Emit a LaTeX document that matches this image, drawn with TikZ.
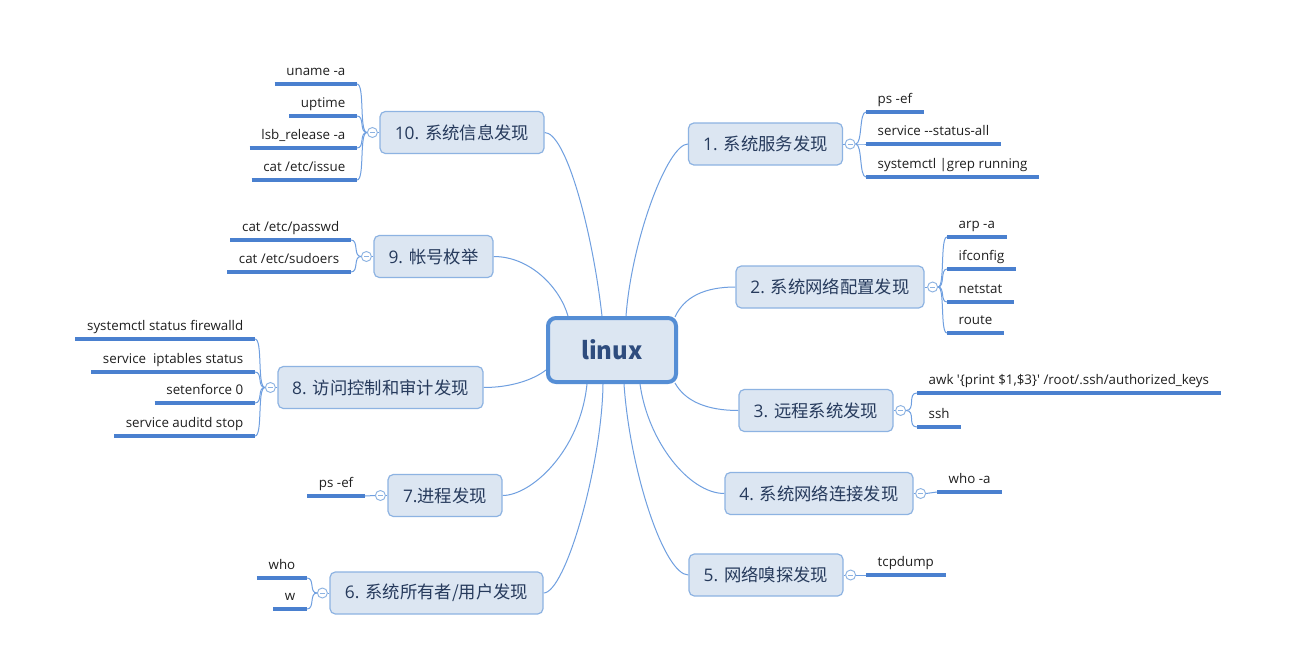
\documentclass[tikz,border=0pt]{standalone}
\usepackage{fontspec}
\newfontfamily\lat{Open Sans}
\newfontfamily\cjk{Noto Sans CJK SC}
\usetikzlibrary{backgrounds}
\definecolor{boxfill}{HTML}{DCE6F2}
\definecolor{boxdraw}{HTML}{8DB3E2}
\definecolor{rootdraw}{HTML}{558ED5}
\definecolor{roottext}{HTML}{2E4C7E}
\definecolor{maintext}{HTML}{263A5C}
\definecolor{ulinec}{HTML}{4A80CF}
\definecolor{connc}{HTML}{6F9FE0}
\begin{document}
\begin{tikzpicture}[x=0.75pt,y=-0.75pt,
 root/.style={draw=rootdraw, line width=3pt, fill=boxfill, rounded corners=6pt, minimum width=96pt, minimum height=48pt, text=roottext, font=\cjk\bfseries\fontsize{18}{22}\selectfont},
 mainbox/.style={draw=boxdraw, line width=0.9pt, fill=boxfill, rounded corners=4pt, minimum height=31.5pt, text=maintext, font=\lat\fontsize{13}{15}\selectfont, inner sep=2pt},
 fold/.style={circle, draw=boxdraw, line width=0.7pt, fill=white, minimum size=7.5pt, inner sep=0pt, path picture={\draw[boxdraw, line width=0.5pt] ([xshift=-1.8pt]path picture bounding box.center) -- ([xshift=1.8pt]path picture bounding box.center);}},
 leaf/.style={inner xsep=8.6pt, inner ysep=6pt, text depth=0pt, font=\lat\fontsize{10}{12}\selectfont, text=black!88},
 leafR/.style={leaf, anchor=south west},
 leafL/.style={leaf, anchor=south east},
 ul/.style={draw=ulinec, line width=2.5pt},
 conn/.style={draw=connc, line width=0.75pt},
]
\useasboundingbox (0,0) rectangle (1296,646);

% root
\node[root] (linux) at (612,350) {linux};

% main nodes
\node[mainbox, minimum width=115.5pt] (n1) at (765.5,144) {1. {\cjk 系统服务发现}};
\node[mainbox, minimum width=141pt] (n2) at (830,287) {2. {\cjk 系统网络配置发现}};
\node[mainbox, minimum width=115.5pt] (n3) at (816,410.5) {3. {\cjk 远程系统发现}};
\node[mainbox, minimum width=141pt] (n4) at (819,493.5) {4. {\cjk 系统网络连接发现}};
\node[mainbox, minimum width=115.5pt] (n5) at (766,575) {5. {\cjk 网络嗅探发现}};
\node[mainbox, minimum width=159.75pt] (n6) at (436.5,593) {6. {\cjk 系统所有者/用户发现}};
\node[mainbox, minimum width=85.5pt] (n7) at (445,495.5) {7.{\cjk 进程发现}};
\node[mainbox, minimum width=153.75pt] (n8) at (380.5,387.5) {8. {\cjk 访问控制和审计发现}};
\node[mainbox, minimum width=89.25pt] (n9) at (433.5,256.5) {9. {\cjk 帐号枚举}};
\node[mainbox, minimum width=123pt] (n10) at (462,132.5) {10. {\cjk 系统信息发现}};

% fold circles
\node[fold] (c1) at ([shift={(7,0)}]n1.east) {};
\node[fold] (c2) at ([shift={(8,0)}]n2.east) {};
\node[fold] (c3) at ([shift={(7,0)}]n3.east) {};
\node[fold] (c4) at ([shift={(7,0)}]n4.east) {};
\node[fold] (c5) at ([shift={(7,0)}]n5.east) {};
\node[fold] (c6) at ([shift={(-7,0)}]n6.west) {};
\node[fold] (c7) at ([shift={(-7,0)}]n7.west) {};
\node[fold] (c8) at ([shift={(-7,0)}]n8.west) {};
\node[fold] (c9) at ([shift={(-7,0)}]n9.west) {};
\node[fold] (c10) at ([shift={(-7,0)}]n10.west) {};

% leaves right
\node[leafR] (a1) at (866,112) {ps -ef};
\node[leafR] (a2) at (866,144) {service -\kern0pt-status-all};
\node[leafR] (a3) at (866,177) {systemctl |grep running};
\node[leafR] (b1) at (947,237) {arp -a};
\node[leafR] (b2) at (947,269) {ifconfig};
\node[leafR] (b3) at (947,302) {netstat};
\node[leafR] (b4) at (947,333) {route};
\node[leafR] (d1) at (917,393) {awk '\{print \$1,\$3\}' /root/.ssh/authorized\_keys};
\node[leafR] (d2) at (917,427) {ssh};
\node[leafR] (e1) at (937,492) {who -a};
\node[leafR] (f1) at (866,575) {tcpdump};
% leaves left
\node[leafL] (g1) at (307,578) {who};
\node[leafL] (g2) at (307,609) {w};
\node[leafL] (h1) at (365,496) {ps -ef};
\node[leafL] (i1) at (255,339) {systemctl status firewalld};
\node[leafL] (i2) at (255,372) {service\ \ iptables status};
\node[leafL] (i3) at (255,403) {setenforce 0};
\node[leafL] (i4) at (255,436) {service auditd stop};
\node[leafL] (j1) at (351,240) {cat /etc/passwd};
\node[leafL] (j2) at (351,272) {cat /etc/sudoers};
\node[leafL] (k1) at (357,84) {uname -a};
\node[leafL] (k2) at (357,116) {uptime};
\node[leafL] (k3) at (357,148) {lsb\_release -a};
\node[leafL] (k4) at (357,180) {cat /etc/issue};

% underlines
\foreach \l in {a1,a2,a3,b1,b2,b3,b4,d1,d2,e1,f1,g1,g2,h1,i1,i2,i3,i4,j1,j2,k1,k2,k3,k4}
  \draw[ul] (\l.south west) -- (\l.south east);

\begin{pgfonlayer}{background}
\fill[white] (0,0) rectangle (1296,646);
% root connectors
\draw[conn] (n10.east) .. controls +(21,0) and +(-10,-88) .. ([shift={(-10,0)}]linux.north);
\draw[conn] (n9.east) .. controls +(37,0) and +(-8,-28) .. ([shift={(-44,0)}]linux.north);
\draw[conn] (n1.west) .. controls +(-20,0) and +(6,-78) .. ([shift={(14,0)}]linux.north);
\draw[conn] (n2.west) .. controls +(-31,0) and +(9,-20) .. ([shift={(-3,1)}]linux.north east);
\draw[conn] (n3.west) .. controls +(-32,0) and +(10,18) .. ([shift={(-3,-1)}]linux.south east);
\draw[conn] (n4.west) .. controls +(-35,0) and +(8,58) .. ([shift={(28,0)}]linux.south);
\draw[conn] (n5.west) .. controls +(-24,0) and +(6,88) .. ([shift={(12,0)}]linux.south);
\draw[conn] (n6.east) .. controls +(22,0) and +(-1,80) .. ([shift={(-9,0)}]linux.south);
\draw[conn] (n7.east) .. controls +(28,0) and +(-7,68) .. ([shift={(-25,0)}]linux.south);
\draw[conn] (n8.east) .. controls +(27,0) and +(-13,10) .. ([shift={(0,20)}]linux.west);
% node to fold
\foreach \n in {1,...,10} \draw[conn] (n\n) -- (c\n);
% fold to leaves, right side
\foreach \l in {a1,a2,a3} \draw[conn] (c1.east) .. controls +(7,0) and +(-7,0) .. (\l.south west);
\foreach \l in {b1,b2,b3,b4} \draw[conn] (c2.east) .. controls +(7,0) and +(-7,0) .. (\l.south west);
\foreach \l in {d1,d2} \draw[conn] (c3.east) .. controls +(10,0) and +(-10,0) .. (\l.south west);
\draw[conn] (c4.east) -- (e1.south west);
\draw[conn] (c5.east) -- (f1.south west);
% fold to leaves, left side
\foreach \l in {g1,g2} \draw[conn] (c6.west) .. controls +(-8,0) and +(8,0) .. (\l.south east);
\draw[conn] (c7.west) -- (h1.south east);
\foreach \l in {i1,i2,i3,i4} \draw[conn] (c8.west) .. controls +(-8,0) and +(8,0) .. (\l.south east);
\foreach \l in {j1,j2} \draw[conn] (c9.west) .. controls +(-8,0) and +(8,0) .. (\l.south east);
\foreach \l in {k1,k2,k3,k4} \draw[conn] (c10.west) .. controls +(-8,0) and +(8,0) .. (\l.south east);
\end{pgfonlayer}
\end{tikzpicture}
\end{document}
